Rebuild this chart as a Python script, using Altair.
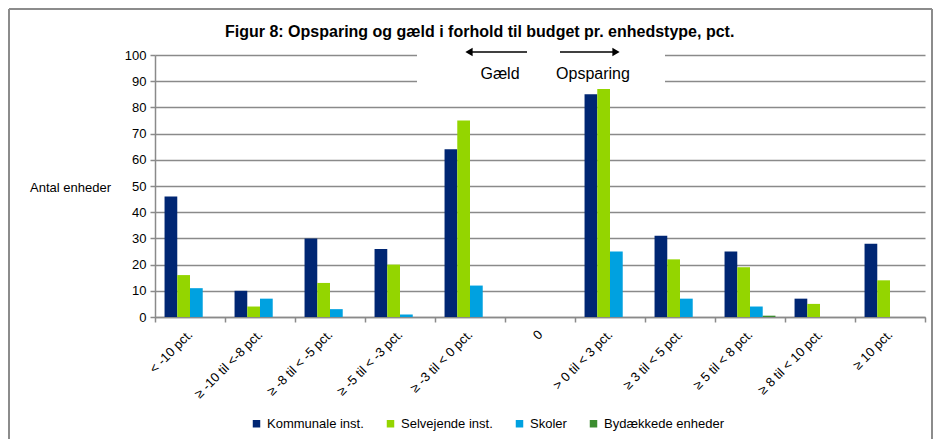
import altair as alt
import pandas as pd

# ---- data ----
categories = [
    "< -10 pct.", "≥ -10 til <-8 pct.", "≥ -8 til < -5 pct.", "≥ -5 til < -3 pct.",
    "≥ -3 til < 0 pct.", "0", "> 0 til < 3 pct.", "≥ 3 til < 5 pct.",
    "≥ 5 til < 8 pct.", "≥ 8 til < 10 pct.", "≥ 10 pct.",
]
series_names = ["Kommunale inst.", "Selvejende inst.", "Skoler", "Bydækkede enheder"]
kommunale = [46, 10, 30, 26, 64, 0, 85, 31, 25, 7, 28]
selvejende = [16, 4, 13, 20, 75, 0, 87, 22, 19, 5, 14]
skoler = [11, 7, 3, 1, 12, 0, 25, 7, 4, 0, 0]
bydaekkede = [0, 0, 0, 0, 0, 0, 0, 0, 0.5, 0, 0]
series_colors = ["#002673", "#94d500", "#00a1e0", "#3b8c2f"]
y_ticks = list(range(0, 101, 10))

title_text = "Figur 8: Opsparing og gæld i forhold til budget pr. enhedstype, pct."
y_title = "Antal enheder"
note_left = "Gæld"
note_right = "Opsparing"

rows = []
for name, vals in zip(series_names, [kommunale, selvejende, skoler, bydaekkede]):
    for c, v in zip(categories, vals):
        rows.append({"Kategori": c, "Serie": name, "Antal": v})
df = pd.DataFrame(rows)
one = pd.DataFrame({"k": [0]})

FONT = "Liberation Sans"
GRID = "#8a8a8a"
FRAME = "#8c8c8c"

bars = alt.Chart(df).mark_bar().encode(
    x=alt.X(
        "Kategori:N", sort=categories,
        scale=alt.Scale(paddingInner=0, paddingOuter=0),
        axis=alt.Axis(
            title=None, labelAngle=-45, labelAlign="right", labelBaseline="middle",
            tickBand="extent", tickSize=5, labelPadding=10, grid=False,
            domainWidth=1.5, tickWidth=1.5, labelFontSize=13,
        ),
    ),
    xOffset=alt.XOffset(
        "Serie:N", sort=series_names,
        scale=alt.Scale(paddingInner=0, paddingOuter=0.75),
    ),
    y=alt.Y(
        "Antal:Q",
        scale=alt.Scale(domain=[0, 100], nice=False),
        axis=alt.Axis(
            values=y_ticks, title=y_title, grid=True, gridWidth=1.5, domainWidth=1.5,
            tickWidth=1.5, tickSize=5, labelPadding=4, labelFontSize=13,
            titleFontSize=13, titleFontWeight="normal", titleAngle=0,
            titleX=-85, titleY=132, titleAlign="center", titleBaseline="middle",
        ),
    ),
    color=alt.Color(
        "Serie:N", sort=series_names,
        scale=alt.Scale(domain=series_names, range=series_colors),
        legend=alt.Legend(
            title=None, orient="none", legendX=95, legendY=362, direction="horizontal",
            columns=4, symbolType="square", symbolSize=56, symbolStrokeWidth=0,
            labelFontSize=13, labelFont=FONT, labelColor="black", columnPadding=20,
            labelOffset=4,
        ),
    ),
)

frame_left = alt.Chart(one).mark_rule(color=FRAME, strokeWidth=2).encode(
    x=alt.value(-146), y=alt.value(-46), y2=alt.value(400))
frame_top = alt.Chart(one).mark_rule(color=FRAME, strokeWidth=2).encode(
    x=alt.value(-146), x2=alt.value(777), y=alt.value(-46))
frame_right = alt.Chart(one).mark_rule(color=FRAME, strokeWidth=2).encode(
    x=alt.value(777), y=alt.value(-46), y2=alt.value(400))

box = alt.Chart(one).mark_rect(color="white").encode(
    x=alt.value(262), x2=alt.value(510), y=alt.value(-12), y2=alt.value(38))

arrow_l = alt.Chart(one).mark_rule(color="black", strokeWidth=1.5).encode(
    x=alt.value(317), x2=alt.value(372), y=alt.value(-3))
head_l = alt.Chart(one).mark_point(shape="triangle-left", filled=True, size=70,
                                   color="black", opacity=1).encode(
    x=alt.value(314), y=alt.value(-3))
arrow_r = alt.Chart(one).mark_rule(color="black", strokeWidth=1.5).encode(
    x=alt.value(405), x2=alt.value(458), y=alt.value(-3))
head_r = alt.Chart(one).mark_point(shape="triangle-right", filled=True, size=70,
                                   color="black", opacity=1).encode(
    x=alt.value(461), y=alt.value(-3))

txt_l = alt.Chart(one).mark_text(text=note_left, font=FONT, fontSize=16, color="black",
                                 baseline="middle").encode(
    x=alt.value(345), y=alt.value(19))
txt_r = alt.Chart(one).mark_text(text=note_right, font=FONT, fontSize=16, color="black",
                                 baseline="middle").encode(
    x=alt.value(438), y=alt.value(19))
title = alt.Chart(one).mark_text(text=title_text, font=FONT, fontSize=16, fontWeight="bold",
                                 color="black", align="left", baseline="alphabetic").encode(
    x=alt.value(70), y=alt.value(-18))

chart = alt.layer(
    frame_left, frame_top, frame_right, box, bars,
    arrow_l, head_l, arrow_r, head_r, txt_l, txt_r, title,
).properties(
    width=770, height=262,
    padding={"left": 147, "top": 47, "right": 9, "bottom": 122},
    autosize=alt.AutoSizeParams(type="none"),
).configure_axis(
    labelFont=FONT, titleFont=FONT, labelColor="black", titleColor="black",
    domainColor=GRID, tickColor=GRID, gridColor=GRID,
).configure_view(stroke=None)

chart.save("out.html", embed_options={"renderer": "svg", "actions": False})
